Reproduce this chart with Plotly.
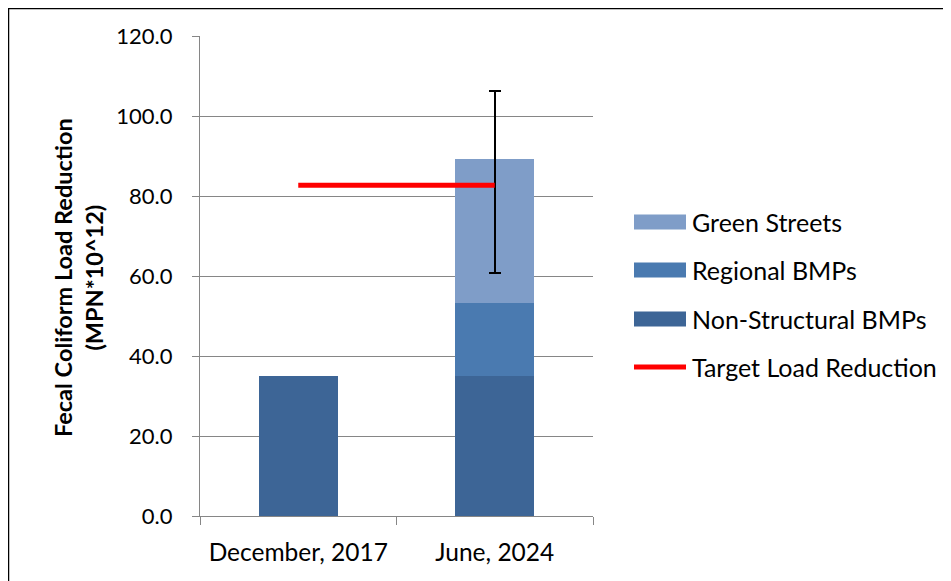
import plotly.graph_objects as go

categories = ["December, 2017", "June, 2024"]
non_structural = [35.0, 35.0]
regional = [None, 18.3]
green_streets = [None, 36.0]
target = [82.7, 82.7]
err_high = [None, 106.2]
err_low = [None, 60.7]

y_ticks = [0, 20, 40, 60, 80, 100, 120]

C_NS = "#3D6596"
C_REG = "#4A7AB0"
C_GS = "#7F9DC8"
C_RED = "#FF0000"
FONT = "Lato, Carlito, Calibri, sans-serif"

totals = [None if g is None else n + r + g for n, r, g in zip(non_structural, regional, green_streets)]
plus = [None if t is None else h - t for t, h in zip(totals, err_high)]
minus = [None if t is None else t - l for t, l in zip(totals, err_low)]

fig = go.Figure()
fig.add_trace(go.Bar(x=categories, y=non_structural, name="Non-Structural BMPs",
                     marker=dict(color=C_NS, line=dict(width=0)), width=0.4))
fig.add_trace(go.Bar(x=categories, y=regional, name="Regional BMPs",
                     marker=dict(color=C_REG, line=dict(width=0)), width=0.4))
fig.add_trace(go.Bar(x=categories, y=green_streets, name="Green Streets",
                     marker=dict(color=C_GS, line=dict(width=0)), width=0.4,
                     error_y=dict(type="data", symmetric=False, array=plus, arrayminus=minus,
                                  color="black", thickness=1.6, width=6)))
fig.add_trace(go.Scatter(x=categories, y=target, name="Target Load Reduction", mode="lines",
                         line=dict(color=C_RED, width=5)))

# page body has an 8px margin; screen coords are shifted by OFF
OFF = 8
W, H = 951 - OFF, 581 - OFF
L, R, T, B = 200 - OFF, 593 - OFF, 36 - OFF, 516 - OFF


def px(x):
    return (x - OFF - L) / (R - L)


def py(y):
    return (B - (y - OFF)) / (B - T)


shapes = [
    dict(type="line", xref="paper", yref="paper", x0=px(8), x1=px(960), y0=py(8), y1=py(8),
         line=dict(color="black", width=2.5)),
    dict(type="line", xref="paper", yref="paper", x0=px(8), x1=px(8), y0=py(8), y1=py(600),
         line=dict(color="black", width=2.5)),
]
annotations = []
legend_items = [("Green Streets", C_GS, 222, "bar"), ("Regional BMPs", C_REG, 270, "bar"),
                ("Non-Structural BMPs", C_NS, 319, "bar"), ("Target Load Reduction", C_RED, 367, "line")]
for name, col, yc, kind in legend_items:
    if kind == "bar":
        shapes.append(dict(type="rect", xref="paper", yref="paper", x0=px(634), x1=px(686),
                           y0=py(yc + 7.5), y1=py(yc - 7.5), fillcolor=col, line=dict(width=0)))
    else:
        shapes.append(dict(type="line", xref="paper", yref="paper", x0=px(634), x1=px(686),
                           y0=py(yc), y1=py(yc), line=dict(color=col, width=5)))
    annotations.append(dict(text=name, xref="paper", yref="paper", x=px(690), y=py(yc),
                            xanchor="left", yanchor="middle", showarrow=False,
                            font=dict(size=25, color="black", family=FONT)))

annotations.append(dict(text="<b>Fecal Coliform Load Reduction<br>(MPN*10^12)</b>", xref="paper",
                        yref="paper", x=px(78), y=py(278), xanchor="center", yanchor="middle",
                        textangle=-90, showarrow=False,
                        font=dict(size=23.5, color="black", family=FONT)))

fig.update_layout(
    width=W, height=H, barmode="stack", showlegend=False,
    margin=dict(l=L, r=W - R, t=T, b=H - B, autoexpand=False),
    paper_bgcolor="white", plot_bgcolor="white",
    font=dict(family=FONT, color="black", size=22),
    shapes=shapes, annotations=annotations,
    xaxis=dict(showline=True, linecolor="#868686", linewidth=1.3, ticks="outside", ticklen=8,
               tickcolor="#868686", tickson="boundaries", showgrid=False,
               tickfont=dict(size=24.5, family=FONT, color="black"), ticklabelstandoff=14),
    yaxis=dict(range=[0, 120], tickvals=y_ticks, tickformat=".1f", showline=True,
               linecolor="#868686", linewidth=1.3, ticks="outside", ticklen=7, tickcolor="#868686",
               gridcolor="#868686", gridwidth=1.3, zeroline=False,
               tickfont=dict(size=22, family=FONT, color="black"), ticklabelstandoff=15),
)

fig.write_html("out.html")
